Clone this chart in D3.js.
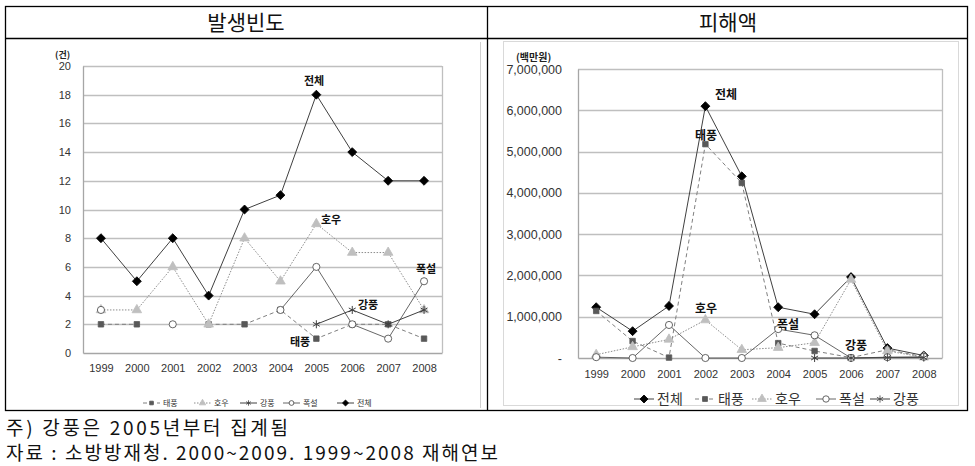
<!DOCTYPE html>
<html><head><meta charset="utf-8">
<script src="https://cdn.jsdelivr.net/npm/d3@7"></script>
<style>
body{margin:0;background:#fff;}
svg{display:block;font-family:"Noto Sans CJK KR","Noto Sans",sans-serif;}
</style></head>
<body>
<svg id="c" width="975" height="466"></svg>
<script>
const years = ["1999","2000","2001","2002","2003","2004","2005","2006","2007","2008"];
const seriesNames = ["태풍","호우","강풍","폭설","전체"];
// 발생빈도 (건)
const freqTyphoon = [2,2,null,2,2,3,1,2,2,1];
const freqRain    = [3,3,6,2,8,5,9,7,7,3];
const freqWind    = [null,null,null,null,null,null,2,3,2,3];
const freqSnow    = [3,null,2,null,null,3,6,2,1,5];
const freqTotal   = [8,5,8,4,10,11,18,14,12,12];
const freqTicks   = [0,2,4,6,8,10,12,14,16,18,20];
// 피해액 (백만원)
const dmgTotal   = [1230000,650000,1260000,6100000,4400000,1230000,1060000,1960000,240000,60000];
const dmgTyphoon = [1140000,410000,10000,5180000,4240000,360000,170000,10000,200000,30000];
const dmgRain    = [80000,270000,450000,920000,200000,250000,370000,1900000,170000,20000];
const dmgSnow    = [20000,0,800000,0,0,700000,550000,0,20000,30000];
const dmgWind    = [null,null,null,null,null,null,0,0,10000,10000];
const dmgTicks   = [0,1000000,2000000,3000000,4000000,5000000,6000000,7000000];
const titles = ["발생빈도","피해액"];
const notes = ["주) 강풍은 2005년부터 집계됨","자료 : 소방방재청. 2000~2009. 1999~2008 재해연보"];

const svg = d3.select("#c");
const asterisk = d3.symbolAsterisk || d3.symbolCross;
const DIAMOND = "diamond";

const styles = {
  "태풍": {sym:d3.symbolSquare, size:30, fill:"#595959", stroke:"#595959", line:"#7f7f7f", dash:"4,3", lw:1},
  "호우": {sym:d3.symbolTriangle, size:40, fill:"#bfbfbf", stroke:"#bfbfbf", line:"#8c8c8c", dash:"1.5,1.5", lw:1},
  "강풍": {sym:asterisk, size:45, fill:"none", stroke:"#404040", line:"#404040", dash:null, lw:1},
  "폭설": {sym:d3.symbolCircle, size:40, fill:"#fff", stroke:"#404040", line:"#404040", dash:null, lw:0.8},
  "전체": {sym:DIAMOND, size:40, fill:"#000", stroke:"#000", line:"#404040", dash:null, lw:1}
};
function symPath(st, k){
  if(st.sym===DIAMOND) return d3.symbol().type(d3.symbolSquare).size(st.size*k)();
  return d3.symbol().type(st.sym).size(st.size*k)();
}
function rot(st){ return st.sym===DIAMOND ? " rotate(45)" : ""; }

// ===== table frame =====
const frame = svg.append("g").attr("fill","none").attr("stroke","#000").attr("stroke-width",1.3);
frame.append("rect").attr("x",5.5).attr("y",6.5).attr("width",962).attr("height",404);
frame.append("line").attr("x1",5.5).attr("x2",967.5).attr("y1",38.5).attr("y2",38.5);
frame.append("line").attr("x1",487.5).attr("x2",487.5).attr("y1",6.5).attr("y2",410.5);
svg.append("text").attr("x",246).attr("y",30).attr("text-anchor","middle").attr("font-size",21).attr("fill","#111").text(titles[0]);
svg.append("text").attr("x",728).attr("y",30).attr("text-anchor","middle").attr("font-size",21).attr("fill","#111").text(titles[1]);

// notes
svg.append("text").attr("x",6).attr("y",435).attr("font-size",19).attr("fill","#111")
  .attr("textLength",282).attr("lengthAdjust","spacing").text(notes[0]);
svg.append("text").attr("x",6).attr("y",460).attr("font-size",19).attr("fill","#111")
  .attr("textLength",492).attr("lengthAdjust","spacing").text(notes[1]);

function drawChart(o){
  const g = svg.append("g");
  const x = d3.scalePoint().domain(years).range([o.l,o.r]).padding(0.5);
  const y = d3.scaleLinear().domain([0,o.max]).range([o.b,o.t]);
  if(o.area) g.append("rect").attr("x",o.area[0]).attr("y",o.area[1]).attr("width",o.area[2]).attr("height",o.area[3])
     .attr("fill","none").attr("stroke","#d9d9d9").attr("stroke-width",1);
  g.append("g").selectAll("line").data(o.ticks.filter(t=>t>0)).join("line")
    .attr("x1",o.l).attr("x2",o.r).attr("y1",d=>Math.round(y(d))+0.5).attr("y2",d=>Math.round(y(d))+0.5)
    .attr("stroke","#bfbfbf").attr("stroke-width",1.3);
  g.append("line").attr("x1",o.r+0.5).attr("x2",o.r+0.5).attr("y1",y(o.max)).attr("y2",o.b).attr("stroke","#bfbfbf").attr("stroke-width",1.3);
  const ya = d3.axisLeft(y).tickValues(o.ticks).tickSize(0).tickPadding(o.tpad).tickFormat(o.fmt);
  const yg = g.append("g").attr("transform",`translate(${o.l},0)`).call(ya);
  yg.select(".domain").attr("stroke","#a6a6a6").attr("stroke-width",1.3);
  yg.selectAll("text").attr("font-size",o.yfs).attr("fill","#333").attr("font-family","inherit");
  const xa = d3.axisBottom(x).tickSize(0).tickPadding(o.xpad);
  const xg = g.append("g").attr("transform",`translate(0,${o.b})`).call(xa);
  xg.select(".domain").attr("stroke","#a6a6a6").attr("stroke-width",1.3);
  xg.selectAll("text").attr("font-size",o.xfs).attr("fill","#333").attr("font-family","inherit");
  g.append("text").attr("x",o.unit[0]).attr("y",o.unit[1]).attr("font-size",o.ufs).attr("font-weight","bold").attr("fill","#222").text(o.unit[2]);
  o.series.forEach(s=>{
    const st = styles[s.name];
    const pts = years.map((yr,i)=>({yr,v:s.vals[i]}));
    const line = d3.line().defined(d=>d.v!=null).x(d=>x(d.yr)).y(d=>y(d.v));
    g.append("path").attr("d",line(pts)).attr("fill","none").attr("stroke",st.line)
      .attr("stroke-width",st.lw).attr("stroke-dasharray",st.dash);
    g.append("g").selectAll("path").data(pts.filter(d=>d.v!=null)).join("path")
      .attr("transform",d=>`translate(${x(d.yr)},${y(d.v)})`+rot(st))
      .attr("d",symPath(st,o.ms))
      .attr("fill",st.fill).attr("stroke",st.stroke).attr("stroke-width",st.sym===asterisk?1:0.8);
  });
  o.labels.forEach(lb=>{
    g.append("text").attr("x",lb[1]).attr("y",lb[2]).attr("text-anchor","middle").attr("font-size",o.lfs)
      .attr("font-weight","bold").attr("fill","#111").text(lb[0]);
  });
  o.legend.forEach((it,i)=>{
    const st = styles[it[0]];
    const lx = it[1];
    g.append("line").attr("x1",lx).attr("x2",lx+o.legLen).attr("y1",o.legY).attr("y2",o.legY)
      .attr("stroke",st.line).attr("stroke-width",st.lw).attr("stroke-dasharray",st.dash);
    g.append("path").attr("transform",`translate(${lx+o.legLen/2},${o.legY})`+rot(st))
      .attr("d",symPath(st,o.lms))
      .attr("fill",st.fill).attr("stroke",st.stroke).attr("stroke-width",0.8);
    g.append("text").attr("x",lx+o.legLen+3).attr("y",o.legY).attr("dy","0.35em").attr("font-size",o.legfs)
      .attr("fill","#333").text(it[0]);
  });
}

drawChart({
  l:83,r:442,t:66,b:353,max:20,ticks:freqTicks,fmt:d=>d,tpad:12,yfs:11,xfs:11,xpad:11,
  unit:[55,58,"(건)"],ufs:9,ms:1,lfs:11,area:null,
  series:[
    {name:"태풍",vals:freqTyphoon},{name:"호우",vals:freqRain},{name:"강풍",vals:freqWind},
    {name:"폭설",vals:freqSnow},{name:"전체",vals:freqTotal}],
  labels:[["전체",314,85],["호우",331,224],["강풍",368,309],["태풍",300,346],["폭설",426,273]],
  legend:[["태풍",143],["호우",194],["강풍",240],["폭설",283],["전체",337]],
  legLen:17,legY:403,legfs:8,lms:0.45
});
svg.append("line").attr("x1",480.5).attr("x2",480.5).attr("y1",42).attr("y2",408).attr("stroke","#d0d0d0");

drawChart({
  l:578,r:942,t:69,b:358,max:7000000,ticks:dmgTicks,fmt:d=>d===0?"-":d3.format(",")(d),tpad:16,yfs:12.5,xfs:11,xpad:12,
  unit:[516,61,"(백만원)"],ufs:10,ms:1,lfs:12,area:[503.5,41.5,455,364],
  series:[
    {name:"전체",vals:dmgTotal},{name:"태풍",vals:dmgTyphoon},{name:"호우",vals:dmgRain},
    {name:"폭설",vals:dmgSnow},{name:"강풍",vals:dmgWind}],
  labels:[["전체",726,99],["태풍",706,140],["호우",706,313],["폭설",788,329],["강풍",856,350]],
  legend:[["전체",634],["태풍",695],["호우",752],["폭설",816],["강풍",870]],
  legLen:20,legY:399,legfs:14,lms:0.8
});
</script>
</body></html>
